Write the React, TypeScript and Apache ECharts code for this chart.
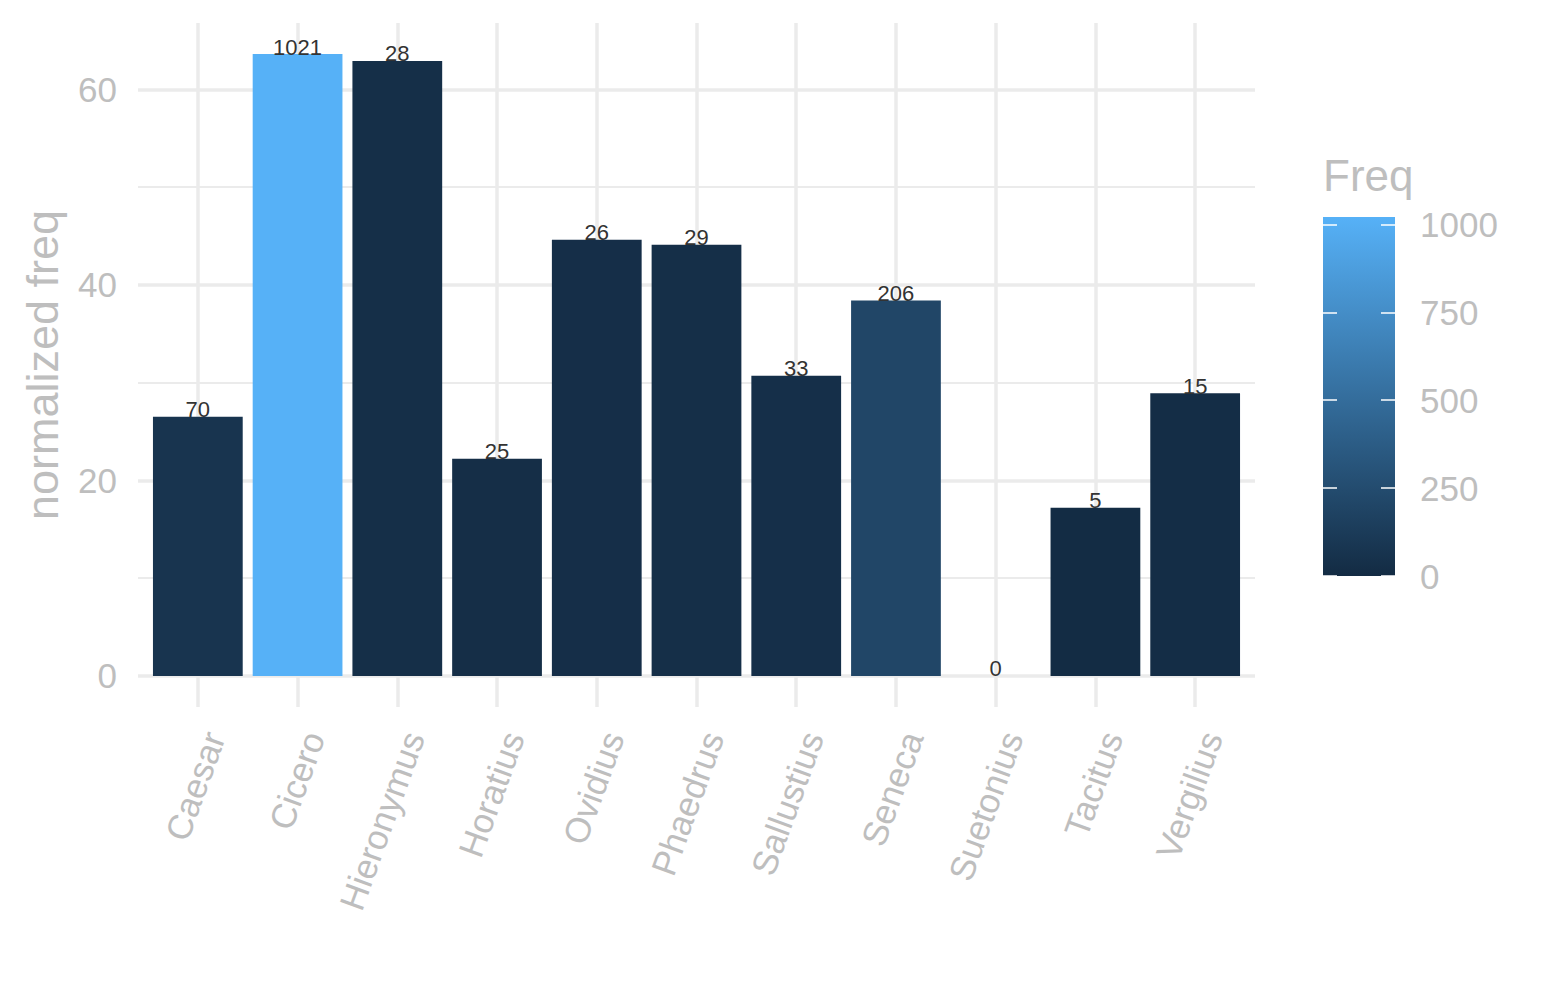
import { useEffect, useRef } from 'react';
import * as echarts from 'echarts';

const authors = ['Caesar', 'Cicero', 'Hieronymus', 'Horatius', 'Ovidius', 'Phaedrus', 'Sallustius', 'Seneca', 'Suetonius', 'Tacitus', 'Vergilius'];
const normFreq = [26.5, 63.6, 62.9, 22.2, 44.6, 44.1, 30.7, 38.4, 0, 17.2, 28.9];
const freq = [70, 1021, 28, 25, 26, 29, 33, 206, 0, 5, 15];
const yMajor = [0, 20, 40, 60];
const yMinor = [10, 30, 50];
const freqTicks = [0, 250, 500, 750, 1000];

const LOW = '#132B43';
const HIGH = '#56B1F7';
const GRID = '#EBEBEB';
const TEXT = '#BEBEBE';
const FONT = 'Liberation Sans, Arial, sans-serif';

const Chart = () => {
  const chartRef = useRef<HTMLDivElement>(null);

  useEffect(() => {
    if (!chartRef.current) return;
    const chart = echarts.init(chartRef.current, undefined, { renderer: 'svg' });

    // ggplot-like padding: 5% on the y range, 0.6 of a category on each side of x
    const yMax = Math.max(...normFreq);
    const pad = yMax * 0.05;
    const freqMax = Math.max(...freq);
    const idx = authors.map((_, i) => i);

    const gridLines = [
      ...yMajor.map(v => ({ yAxis: v, lineStyle: { color: GRID, width: 3.5, type: 'solid' } })),
      ...yMinor.map(v => ({ yAxis: v, lineStyle: { color: GRID, width: 2, type: 'solid' } })),
      ...idx.map(i => ({ xAxis: i, lineStyle: { color: GRID, width: 3.5, type: 'solid' } })),
    ];

    const options: any = {
      animation: false,
      backgroundColor: '#ffffff',
      textStyle: { fontFamily: FONT },
      title: {
        text: 'Freq',
        left: 1323,
        top: 153,
        padding: 0,
        textStyle: { fontSize: 44, fontWeight: 'normal', color: TEXT, fontFamily: FONT },
      },
      grid: [
        { left: 138, right: 290, top: 23, bottom: 293 },
        { left: 1323, width: 72, top: 217, height: 359 },
      ],
      xAxis: [
        {
          type: 'value',
          gridIndex: 0,
          min: -0.6,
          max: authors.length - 1 + 0.6,
          axisLine: { show: false },
          axisTick: { show: false },
          splitLine: { show: false },
          axisLabel: {
            customValues: idx,
            formatter: (v: number) => authors[Math.round(v)] ?? '',
            rotate: 70,
            align: 'right',
            verticalAlign: 'top',
            margin: 20,
            fontSize: 35,
            color: TEXT,
            fontFamily: FONT,
          },
        },
        {
          type: 'category',
          data: ['Freq'],
          gridIndex: 1,
          show: false,
        },
      ],
      yAxis: [
        {
          type: 'value',
          gridIndex: 0,
          min: -pad,
          max: yMax + pad,
          name: 'normalized freq',
          nameLocation: 'middle',
          nameGap: 73,
          nameTextStyle: { fontSize: 45, color: TEXT, fontFamily: FONT },
          axisLine: { show: false },
          axisTick: { show: false },
          splitLine: { show: false },
          axisLabel: {
            customValues: yMajor,
            margin: 21,
            fontSize: 35,
            color: TEXT,
            fontFamily: FONT,
          },
        },
        {
          type: 'value',
          gridIndex: 1,
          min: 0,
          max: freqMax,
          interval: 250,
          position: 'right',
          z: 10,
          axisLine: { show: false },
          splitLine: { show: false },
          axisTick: { show: true, inside: true, length: 14, customValues: freqTicks, lineStyle: { color: '#ffffff', width: 1.5 } },
          axisLabel: {
            customValues: freqTicks,
            formatter: (v: number) => String(v),
            margin: 25,
            fontSize: 35,
            color: TEXT,
            fontFamily: FONT,
          },
        },
        {
          type: 'value',
          gridIndex: 1,
          min: 0,
          max: freqMax,
          interval: 250,
          position: 'left',
          z: 10,
          axisLine: { show: false },
          splitLine: { show: false },
          axisTick: { show: true, inside: true, length: 14, customValues: freqTicks, lineStyle: { color: '#ffffff', width: 1.5 } },
          axisLabel: { show: false },
        },
      ],
      visualMap: {
        type: 'continuous',
        show: false,
        seriesIndex: 1,
        dimension: 2,
        min: 0,
        max: freqMax,
        inRange: { color: [LOW, HIGH] },
      },
      series: [
        {
          name: 'grid',
          type: 'line',
          data: [],
          xAxisIndex: 0,
          yAxisIndex: 0,
          silent: true,
          z: 1,
          markLine: {
            silent: true,
            symbol: ['none', 'none'],
            label: { show: false },
            z: 1,
            data: gridLines,
          },
        },
        {
          name: 'normalized freq',
          type: 'bar',
          xAxisIndex: 0,
          yAxisIndex: 0,
          z: 3,
          barWidth: '90%',
          encode: { x: 0, y: 1 },
          data: idx.map(i => [i, normFreq[i], freq[i]]),
          label: {
            show: true,
            position: 'top',
            distance: -4,
            fontSize: 22,
            color: '#333333',
            fontFamily: FONT,
            formatter: (p: any) => String(p.value[2]),
          },
        },
        {
          name: 'Freq',
          type: 'bar',
          xAxisIndex: 1,
          yAxisIndex: 1,
          z: 2,
          barWidth: '100%',
          silent: true,
          data: [freqMax],
          itemStyle: {
            color: new echarts.graphic.LinearGradient(0, 1, 0, 0, [
              { offset: 0, color: LOW },
              { offset: 1, color: HIGH },
            ]),
          },
        },
      ],
    };

    chart.setOption(options);

    return () => {
      chart.dispose();
    };
  }, []);

  return (
    <div
      ref={chartRef}
      style={{ position: 'absolute', left: 0, top: 0, width: '1545px', height: '1000px' }}
    />
  );
};

export default function App() {
  return <Chart />;
}
